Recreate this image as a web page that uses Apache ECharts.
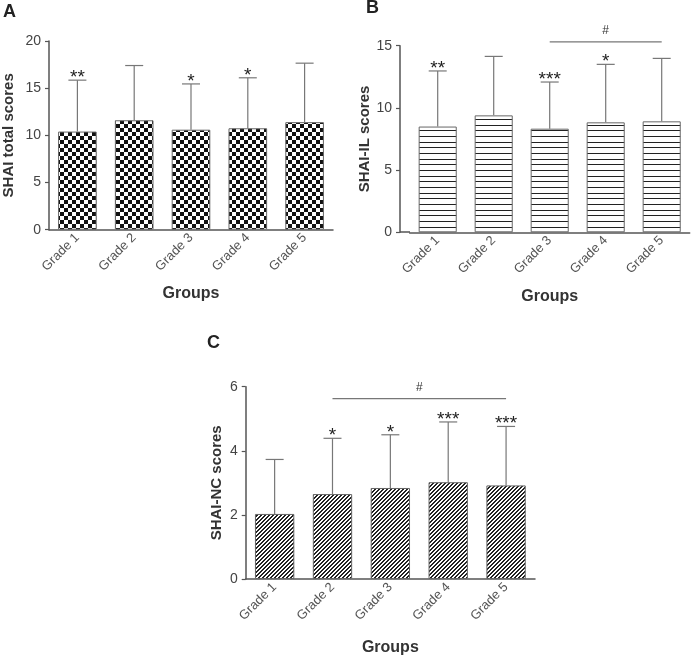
<!DOCTYPE html>
<html><head><meta charset="utf-8">
<script src="https://cdn.jsdelivr.net/npm/echarts@6/dist/echarts.min.js"></script>
<style>html,body{margin:0;padding:0;background:#fff}#c{width:692px;height:657px}</style>
</head><body><div id="c"></div>
<script>
var categories = ['Grade 1', 'Grade 2', 'Grade 3', 'Grade 4', 'Grade 5'];
var totalMean = [10.4, 11.6, 10.6, 10.75, 11.4];
var totalSD = [5.45, 5.8, 4.85, 5.35, 6.25];
var totalStars = ['**', '', '*', '*', ''];
var ilMean = [8.5, 9.4, 8.33, 8.84, 8.92];
var ilSD = [4.47, 4.74, 3.75, 4.66, 5.06];
var ilStars = ['**', '', '***', '*', ''];
var ilBracket = [2, 4, 15.3, '#'];
var ncMean = [2.03, 2.65, 2.84, 3.02, 2.92];
var ncSD = [1.70, 1.74, 1.66, 1.88, 1.84];
var ncStars = ['', '*', '*', '***', '***'];
var ncBracket = [1, 4, 5.63, '#'];
var yTicksA = [0, 20, 5];
var yTicksB = [0, 15, 5];
var yTicksC = [0, 6, 2];

var FONT = '"Liberation Sans", Arial, sans-serif';

function mk(w, h, draw) {
  var c = document.createElement('canvas'); c.width = w; c.height = h;
  var g = c.getContext('2d'); g.fillStyle = '#fff'; g.fillRect(0, 0, w, h);
  draw(g); return c;
}
var checker = mk(8, 8, function (g) { g.fillStyle = '#111'; g.fillRect(0, 0, 4, 4); g.fillRect(4, 4, 4, 4); });
var horiz = mk(4, 17, function (g) { g.fillStyle = '#222'; g.fillRect(0, 0, 4, 1); g.fillRect(0, 6, 4, 1); g.fillRect(0, 11, 4, 1); });
var diag = mk(4, 4, function (g) { g.fillStyle = '#222'; for (var x = 0; x < 4; x++) { g.fillRect(x, (3 - x + 4) % 4, 1, 1); g.fillRect(x, (4 - x) % 4, 1, 1); } });

function errSeries(idx, mean, sd, stars) {
  return {
    type: 'custom', xAxisIndex: idx, yAxisIndex: idx, silent: true, z: 5,
    data: mean.map(function (m, i) { return [i, m, sd[i]]; }),
    renderItem: function (params, api) {
      var i = api.value(0), m = api.value(1), s = api.value(2);
      var st = stars[params.dataIndex];
      var p0 = api.coord([i, m]), p1 = api.coord([i, m + s]);
      var hw = 9;
      var kids = [
        { type: 'line', shape: { x1: p0[0], y1: p0[1], x2: p1[0], y2: p1[1] }, style: { stroke: '#777', lineWidth: 1.2 } },
        { type: 'line', shape: { x1: p1[0] - hw, y1: p1[1], x2: p1[0] + hw, y2: p1[1] }, style: { stroke: '#777', lineWidth: 1.2 } }
      ];
      if (st) kids.push({ type: 'text', x: p1[0], y: p1[1] + 7, style: { text: st, font: '19px ' + FONT, fill: '#222', align: 'center', verticalAlign: 'bottom' } });
      return { type: 'group', children: kids };
    }
  };
}
function bracketSeries(idx, br) {
  return {
    type: 'custom', xAxisIndex: idx, yAxisIndex: idx, silent: true, clip: false, z: 5,
    data: [[br[0], br[1], br[2]]],
    renderItem: function (params, api) {
      var a = api.coord([api.value(0), api.value(2)]), b = api.coord([api.value(1), api.value(2)]);
      return { type: 'group', children: [
        { type: 'line', shape: { x1: a[0], y1: a[1], x2: b[0], y2: b[1] }, style: { stroke: '#777', lineWidth: 1.2 } },
        { type: 'text', x: (a[0] + b[0]) / 2, y: a[1] - 5, style: { text: br[3], font: '12px ' + FONT, fill: '#333', align: 'center', verticalAlign: 'bottom' } }
      ] };
    }
  };
}
function xAx(idx) {
  return {
    gridIndex: idx, type: 'category', data: categories, boundaryGap: true,
    name: 'Groups', nameLocation: 'middle', nameGap: 56,
    nameTextStyle: { fontFamily: FONT, fontWeight: 'bold', fontSize: 16, color: '#333' },
    axisLine: { lineStyle: { color: '#555', width: 1.5 } },
    axisTick: { alignWithLabel: true, length: 4, lineStyle: { color: '#555', width: 1.2 } },
    axisLabel: { rotate: 45, fontFamily: FONT, fontSize: 13, color: '#555', margin: 6 }
  };
}
function yAx(idx, t, name, gap, off) {
  return {
    gridIndex: idx, type: 'value', min: t[0], max: t[1], interval: t[2], offset: off || 0,
    name: name, nameLocation: 'middle', nameRotate: 90, nameGap: gap,
    nameTextStyle: { fontFamily: FONT, fontWeight: 'bold', fontSize: 15, color: '#333' },
    splitLine: { show: false },
    axisLine: { show: true, lineStyle: { color: '#555', width: 1.5 } },
    axisTick: { show: true, length: 4, lineStyle: { color: '#555', width: 1.2 } },
    axisLabel: { fontFamily: FONT, fontSize: 14, color: '#444', margin: 8 }
  };
}
function barSeries(idx, data, pat) {
  return {
    type: 'bar', xAxisIndex: idx, yAxisIndex: idx, data: data, barWidth: '68%', silent: true,
    itemStyle: { color: { image: pat, repeat: 'repeat' }, borderColor: '#666', borderWidth: 1 }
  };
}

var chart = echarts.init(document.getElementById('c'), null, { renderer: 'canvas' });
var TS = { fontFamily: FONT, fontWeight: 'bold', fontSize: 18, color: '#222' };
chart.setOption({
  animation: false,
  title: [
    { text: 'A', left: 3, top: 3, padding: 0, textStyle: TS },
    { text: 'B', left: 366, top: -1, padding: 0, textStyle: TS },
    { text: 'C', left: 207, top: 334, padding: 0, textStyle: TS }
  ],
  grid: [
    { left: 48, top: 41, width: 285, height: 188.7 },
    { left: 409.7, top: 45.7, width: 280, height: 186.6 },
    { left: 245.7, top: 386.7, width: 289.3, height: 192.3 }
  ],
  xAxis: [xAx(0), xAx(1), Object.assign(xAx(2), { nameGap: 61 })],
  yAxis: [yAx(0, yTicksA, 'SHAI total scores', 33), yAx(1, yTicksB, 'SHAI-IL scores', 17, 9.7), yAx(2, yTicksC, 'SHAI-NC scores', 21)],
  series: [
    barSeries(0, totalMean, checker), errSeries(0, totalMean, totalSD, totalStars),
    barSeries(1, ilMean, horiz), errSeries(1, ilMean, ilSD, ilStars), bracketSeries(1, ilBracket),
    barSeries(2, ncMean, diag), errSeries(2, ncMean, ncSD, ncStars), bracketSeries(2, ncBracket)
  ]
});
var p0 = chart.convertToPixel({ gridIndex: 1 }, [0, 0]);
chart.setOption({ graphic: [{ type: 'line', shape: { x1: 400, y1: Math.round(p0[1]), x2: 410, y2: Math.round(p0[1]) }, style: { stroke: '#555', lineWidth: 1.5 } }] });
</script></body></html>
